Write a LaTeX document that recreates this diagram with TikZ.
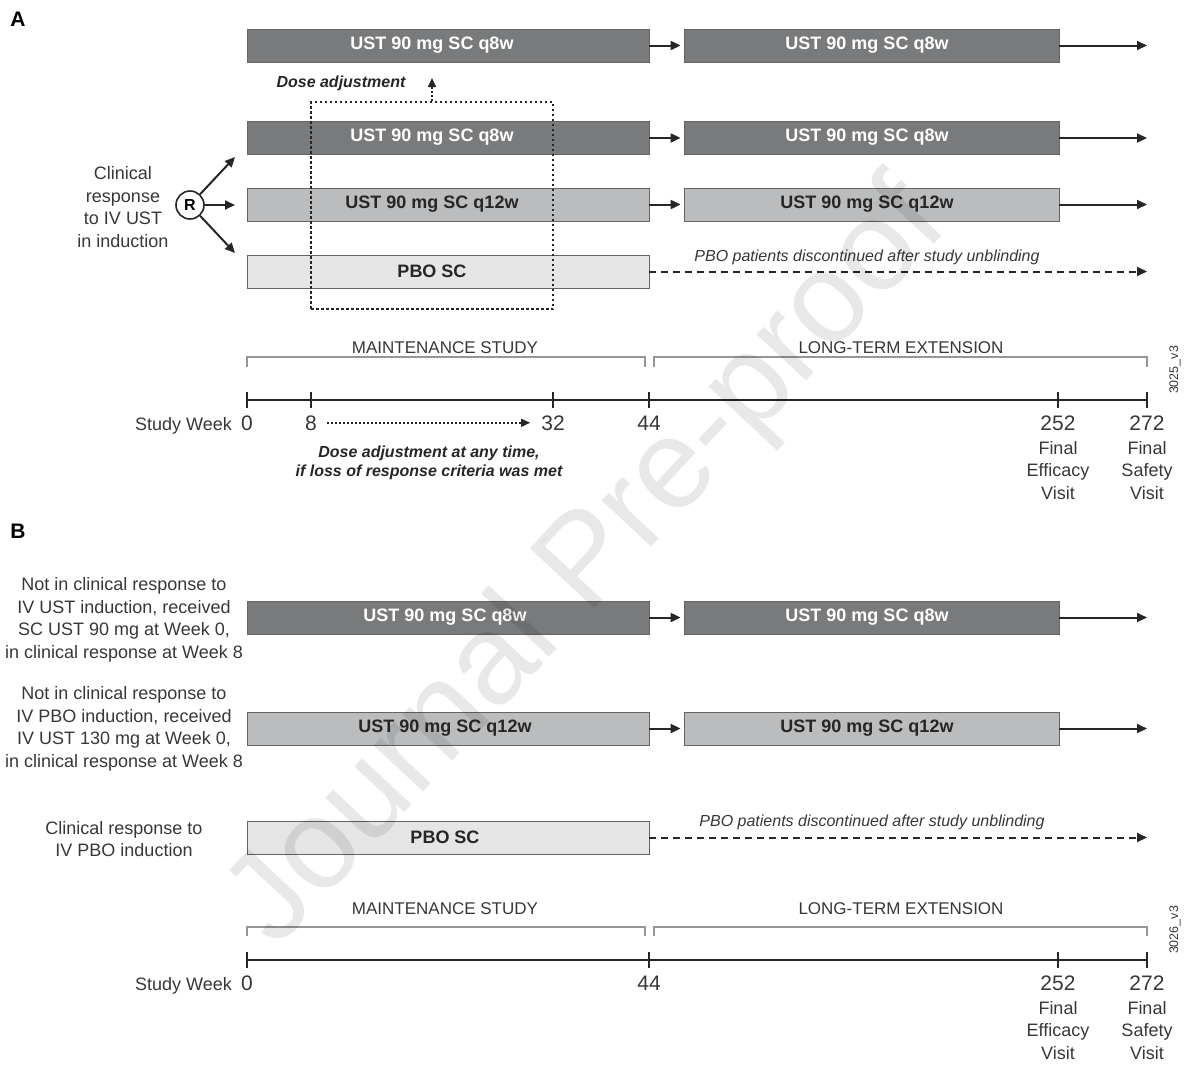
\documentclass[tikz,border=0pt]{standalone}
\usepackage{fontspec}
\setmainfont{Liberation Sans}
\usetikzlibrary{arrows.meta}
\definecolor{darkfill}{RGB}{120,122,124}
\definecolor{midfill}{RGB}{186,188,190}
\definecolor{lightfill}{RGB}{229,229,230}
\definecolor{boxedge}{RGB}{100,100,100}
\definecolor{brk}{RGB}{150,150,150}
\definecolor{txt}{RGB}{55,55,55}
\begin{document}
\begin{tikzpicture}[x=1pt,y=-1pt,
  bx/.style={draw=boxedge,line width=0.8pt,minimum height=33pt,inner sep=0pt},
  dark/.style={bx,fill=darkfill},
  mid/.style={bx,fill=midfill},
  light/.style={bx,fill=lightfill},
  lblw/.style={text=white,font=\fontsize{18}{20}\selectfont\bfseries,inner sep=0pt},
  lblb/.style={text=black!85,font=\fontsize{18}{20}\selectfont\bfseries,inner sep=0pt},
  arr/.style={line width=2pt,black!85,-{Triangle[length=10pt,width=9pt]}},
  dasharr/.style={line width=2pt,black!85,dash pattern=on 7pt off 5pt,-{Triangle[length=10pt,width=9pt]}},
  dotarr/.style={line width=1.6pt,black!85,dash pattern=on 2pt off 2pt,-{Triangle[length=9pt,width=8pt]}},
  reg/.style={font=\fontsize{18}{22.5}\selectfont,text=txt,align=center,inner sep=0pt},
  num/.style={font=\fontsize{21}{24}\selectfont,text=txt,inner sep=0pt},
  ital/.style={font=\fontsize{16}{18}\selectfont\itshape,text=txt,inner sep=0pt},
  boldital/.style={font=\fontsize{16}{19}\selectfont\bfseries\itshape,text=black!85,inner sep=0pt,align=center},
  study/.style={font=\fontsize{17}{20}\selectfont,text=txt,inner sep=0pt},
  idlbl/.style={font=\fontsize{12.5}{14}\selectfont,text=txt,rotate=90,inner sep=0pt},
  panel/.style={font=\fontsize{21}{22}\selectfont\bfseries,inner sep=0pt},
  bracket/.style={draw=brk,line width=1.2pt},
  axisline/.style={line width=2.8pt,black!85},
  tickline/.style={line width=2.2pt,black!85},
]
\useasboundingbox (0,0) rectangle (1184,1066);

% ================= Panel A =================
\node[panel] (A) at (18,19) {A};

% rows
\node[dark,minimum width=402pt] (a1l) at (448,45.5) {};
\node[dark,minimum width=375pt] (a1r) at (871.5,45.5) {};
\node[dark,minimum width=402pt] (a2l) at (448,138) {};
\node[dark,minimum width=375pt] (a2r) at (871.5,138) {};
\node[mid,minimum width=402pt] (a3l) at (448,204.5) {};
\node[mid,minimum width=375pt] (a3r) at (871.5,204.5) {};
\node[light,minimum width=402pt] (a4l) at (448,271.5) {};

\node[lblw] (ta1l) at (432,45) {UST 90 mg SC q8w};
\node[lblw] (ta1r) at (867,45) {UST 90 mg SC q8w};
\node[lblw] (ta2l) at (432,137) {UST 90 mg SC q8w};
\node[lblw] (ta2r) at (867,137) {UST 90 mg SC q8w};
\node[lblb] (ta3l) at (432,204) {UST 90 mg SC q12w};
\node[lblb] (ta3r) at (867,204) {UST 90 mg SC q12w};
\node[lblb] (ta4l) at (432,271) {PBO SC};

\coordinate (a1e) at (1147,45.5);
\coordinate (a2e) at (1147,138);
\coordinate (a3e) at (1147,204.5);
\coordinate (a4e) at (1147,271.5);
\draw[arr,shorten >=3pt] (a1l.east) -- (a1r.west);
\draw[arr,shorten >=3pt] (a2l.east) -- (a2r.west);
\draw[arr,shorten >=3pt] (a3l.east) -- (a3r.west);
\draw[arr] (a1r.east) -- (a1e);
\draw[arr] (a2r.east) -- (a2e);
\draw[arr] (a3r.east) -- (a3e);
\draw[dasharr] (a4l.east) -- (a4e);
\node[ital] (pboA) at (867,257) {PBO patients discontinued after study unblinding};

% dose adjustment box
\node[draw=black!85,line width=1.8pt,dash pattern=on 2.5pt off 2.5pt,minimum width=242pt,minimum height=207pt,inner sep=0pt] (dadj) at (432,205.5) {};
\coordinate (dtip) at (432,78);
\draw[dotarr] (dadj.north) -- (dtip);
\node[boldital] (dlbl) at (341,83) {Dose adjustment};

% randomization
\node[circle,draw=black!85,line width=1.6pt,minimum size=28pt,inner sep=0pt,font=\fontsize{16}{16}\selectfont\bfseries] (R) at (190,205) {R};
\coordinate (r1) at (235,157);
\coordinate (r2) at (235,205);
\coordinate (r3) at (235,253);
\draw[arr] (R) -- (r1);
\draw[arr] (R) -- (r2);
\draw[arr] (R) -- (r3);
\node[reg] (clinA) at (123,207) {Clinical\\response\\to IV UST\\in induction};

% timeline A
\node[study] (msA) at (445,348) {MAINTENANCE STUDY};
\node[study] (lteA) at (901,348) {LONG-TERM EXTENSION};
\draw[bracket] (247,367) -- (247,357) -- (645,357) -- (645,367);
\draw[bracket] (654,367) -- (654,357) -- (1147,357) -- (1147,367);

\coordinate (tA0) at (247,400);
\coordinate (tA8) at (311,400);
\coordinate (tA32) at (553,400);
\coordinate (tA44) at (649,400);
\coordinate (tA252) at (1058,400);
\coordinate (tA272) at (1147,400);
\draw[axisline] (tA0) -- (tA272);
\foreach \c in {tA0,tA8,tA32,tA44,tA252,tA272}
  \draw[tickline] ([yshift=8pt]\c) -- ([yshift=-8pt]\c);

\node[reg,anchor=base east] (swA) at (232,430) {Study Week};
\node[num,anchor=base] (nA0) at (247,430) {0};
\node[num,anchor=base] (nA8) at (311,430) {8};
\node[num,anchor=base] (nA32) at (553,430) {32};
\node[num,anchor=base] (nA44) at (649,430) {44};
\node[num,anchor=base] (nA252) at (1058,430) {252};
\node[num,anchor=base] (nA272) at (1147,430) {272};
\draw[dotarr,shorten <=10pt,shorten >=11pt] (nA8.east) -- (nA32.west);
\node[boldital] (noteA) at (429,463) {Dose adjustment at any time,\\if loss of response criteria was met};
\node[reg,anchor=north] (feA) at (1058,441) {Final\\Efficacy\\Visit};
\node[reg,anchor=north] (fsA) at (1147,441) {Final\\Safety\\Visit};
\node[idlbl] (idA) at (1175,370) {3025\_v3};

% ================= Panel B =================
\node[panel] (B) at (18,531) {B};

\node[dark,minimum width=402pt] (b1l) at (448,617.5) {};
\node[dark,minimum width=375pt] (b1r) at (871.5,617.5) {};
\node[mid,minimum width=402pt] (b2l) at (448,728.5) {};
\node[mid,minimum width=375pt] (b2r) at (871.5,728.5) {};
\node[light,minimum width=402pt] (b3l) at (448,837.5) {};

\node[lblw] (tb1l) at (445,617) {UST 90 mg SC q8w};
\node[lblw] (tb1r) at (867,617) {UST 90 mg SC q8w};
\node[lblb] (tb2l) at (445,728) {UST 90 mg SC q12w};
\node[lblb] (tb2r) at (867,728) {UST 90 mg SC q12w};
\node[lblb] (tb3l) at (445,837) {PBO SC};

\coordinate (b1e) at (1147,617.5);
\coordinate (b2e) at (1147,728.5);
\coordinate (b3e) at (1147,837.5);
\draw[arr,shorten >=3pt] (b1l.east) -- (b1r.west);
\draw[arr,shorten >=3pt] (b2l.east) -- (b2r.west);
\draw[arr] (b1r.east) -- (b1e);
\draw[arr] (b2r.east) -- (b2e);
\draw[dasharr] (b3l.east) -- (b3e);
\node[ital] (pboB) at (872,822) {PBO patients discontinued after study unblinding};

\node[reg] (grp1) at (124,620) {Not in clinical response to\\IV UST induction, received\\SC UST 90 mg at Week 0,\\in clinical response at Week 8};
\node[reg] (grp2) at (124,729) {Not in clinical response to\\IV PBO induction, received\\IV UST 130 mg at Week 0,\\in clinical response at Week 8};
\node[reg] (grp3) at (124,839) {Clinical response to\\IV PBO induction};

% timeline B
\node[study] (msB) at (445,909) {MAINTENANCE STUDY};
\node[study] (lteB) at (901,909) {LONG-TERM EXTENSION};
\draw[bracket] (247,936) -- (247,927) -- (645,927) -- (645,936);
\draw[bracket] (654,936) -- (654,927) -- (1147,927) -- (1147,936);

\coordinate (tB0) at (247,960);
\coordinate (tB44) at (649,960);
\coordinate (tB252) at (1058,960);
\coordinate (tB272) at (1147,960);
\draw[axisline] (tB0) -- (tB272);
\foreach \c in {tB0,tB44,tB252,tB272}
  \draw[tickline] ([yshift=8pt]\c) -- ([yshift=-8pt]\c);

\node[reg,anchor=base east] (swB) at (232,990) {Study Week};
\node[num,anchor=base] (nB0) at (247,990) {0};
\node[num,anchor=base] (nB44) at (649,990) {44};
\node[num,anchor=base] (nB252) at (1058,990) {252};
\node[num,anchor=base] (nB272) at (1147,990) {272};
\node[reg,anchor=north] (feB) at (1058,1001) {Final\\Efficacy\\Visit};
\node[reg,anchor=north] (fsB) at (1147,1001) {Final\\Safety\\Visit};
\node[idlbl] (idB) at (1175,930) {3026\_v3};

% watermark
\node[rotate=47,font=\fontsize{128}{130}\selectfont,text=black,opacity=0.09,inner sep=0pt] (wm) at (590,565) {Journal Pre-proof};
\end{tikzpicture}
\end{document}
